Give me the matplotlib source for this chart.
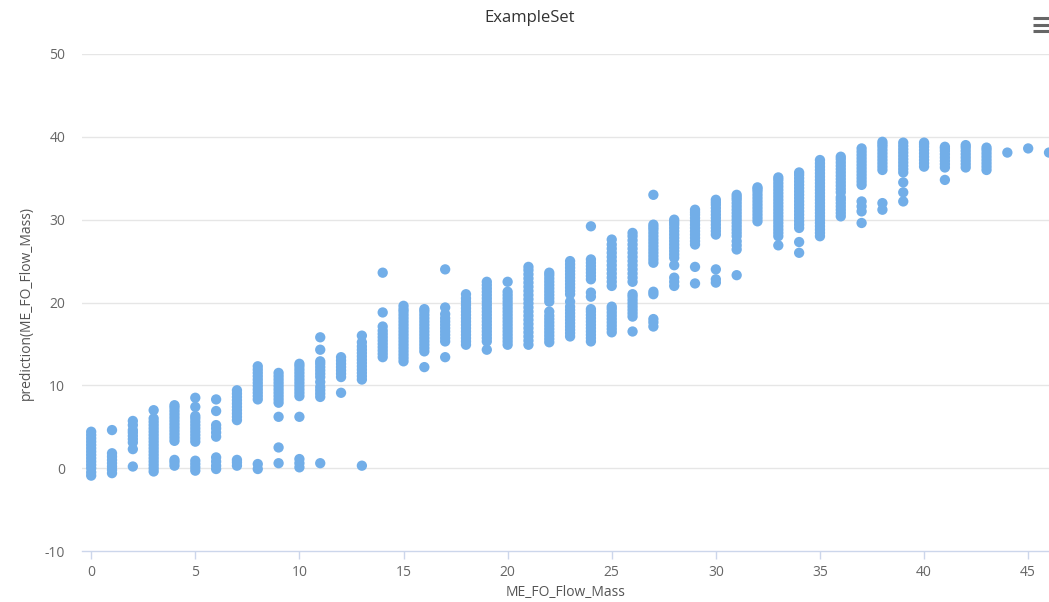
import matplotlib
matplotlib.use("Agg")
import matplotlib.pyplot as plt
from matplotlib.lines import Line2D

plt.rcParams['font.family'] = ['Open Sans', 'DejaVu Sans']
plt.rcParams['axes.unicode_minus'] = False

# Predicted flow mass for each observed ME_FO_Flow_Mass value
pred_00 = [-0.9, -0.5, 0.0, 0.4, 0.8, 1.2, 1.6, 2.0, 2.4, 2.8, 3.2, 3.6, 4.0, 4.4]
pred_01 = [-0.6, -0.2, 0.2, 0.6, 1.0, 1.4, 1.8, 4.6]
pred_02 = [0.2, 2.3, 3.1, 3.5, 3.9, 4.3, 4.6, 5.2, 5.7]
pred_03 = [-0.4, 0.0, 0.4, 0.8, 1.2, 1.6, 2.0, 2.4, 2.8, 3.2, 3.6, 4.0, 4.4, 4.8, 5.2, 5.6, 6.0, 7.0]
pred_04 = [0.3, 0.7, 1.0, 3.3, 3.7, 4.1, 4.5, 4.9, 5.3, 5.7, 6.1, 6.5, 6.9, 7.3, 7.6]
pred_05 = [-0.3, 0.1, 0.5, 0.9, 3.2, 3.6, 4.0, 4.4, 4.8, 5.2, 5.6, 6.0, 6.3, 7.4, 8.5]
pred_06 = [-0.1, 0.3, 0.8, 1.3, 3.8, 4.3, 4.8, 5.2, 6.9, 8.3]
pred_07 = [0.3, 0.7, 1.0, 5.8, 6.2, 6.6, 7.0, 7.4, 7.8, 8.2, 8.6, 9.0, 9.4]
pred_08 = [-0.1, 0.5, 8.3, 8.7, 9.1, 9.5, 9.9, 10.3, 10.7, 11.1, 11.5, 11.9, 12.3]
pred_09 = [0.6, 2.5, 6.2, 7.9, 8.3, 8.7, 9.1, 9.5, 9.9, 10.3, 10.7, 11.1, 11.5]
pred_10 = [0.1, 0.6, 1.1, 6.2, 8.7, 9.1, 9.5, 9.9, 10.3, 10.7, 11.1, 11.5, 11.9, 12.3, 12.6]
pred_11 = [0.6, 8.6, 9.0, 9.4, 9.8, 10.4, 11.0, 11.4, 11.8, 12.2, 12.6, 12.9, 14.3, 15.8]
pred_12 = [9.1, 11.0, 11.4, 11.8, 12.2, 12.6, 13.0, 13.4]
pred_13 = [0.3, 10.7, 11.1, 11.5, 11.9, 12.3, 12.7, 13.1, 13.5, 13.9, 14.3, 14.7, 15.2, 16.0]
pred_14 = [13.4, 13.8, 14.2, 14.6, 15.0, 15.4, 15.8, 16.2, 16.6, 17.1, 18.8, 23.6]
pred_15 = [12.9, 13.3, 13.7, 14.1, 14.5, 14.9, 15.3, 15.7, 16.1, 16.5, 16.9, 17.3, 17.7, 18.1,
           18.5, 18.9, 19.2, 19.6]
pred_16 = [12.2, 14.1, 14.5, 14.9, 15.3, 15.7, 16.1, 16.5, 16.9, 17.3, 17.7, 18.1, 18.5, 18.9, 19.2]
pred_17 = [13.4, 15.3, 15.7, 16.1, 16.5, 16.9, 17.3, 17.7, 18.1, 18.6, 19.4, 24.0]
pred_18 = [14.9, 15.3, 15.7, 16.1, 16.5, 16.9, 17.3, 17.7, 18.1, 18.5, 18.9, 19.3, 19.7, 20.1,
           20.5, 21.0]
pred_19 = [14.3, 15.3, 15.7, 16.1, 16.5, 16.9, 17.3, 17.7, 18.1, 18.5, 18.9, 19.3, 19.7, 20.1,
           20.5, 20.9, 21.3, 21.7, 22.1, 22.5]
pred_20 = [14.9, 15.3, 15.7, 16.1, 16.5, 16.9, 17.3, 17.7, 18.1, 18.5, 18.9, 19.3, 19.7, 20.1,
           20.5, 20.9, 21.3, 22.5]
pred_21 = [14.9, 15.4, 15.9, 16.4, 16.9, 17.4, 17.9, 18.4, 18.9, 19.4, 19.9, 20.4, 20.9, 21.4,
           21.9, 22.4, 22.9, 23.4, 23.9, 24.3]
pred_22 = [15.2, 15.6, 16.0, 16.4, 16.8, 17.2, 17.6, 18.0, 18.4, 18.9, 20.1, 20.5, 20.9, 21.3,
           21.7, 22.1, 22.5, 22.9, 23.3, 23.6]
pred_23 = [15.9, 16.3, 16.7, 17.1, 17.5, 17.9, 18.3, 18.7, 19.1, 19.5, 20.1, 21.0, 21.4, 21.8,
           22.2, 22.6, 23.0, 23.4, 23.8, 24.2, 24.6, 25.0]
pred_24 = [15.3, 15.7, 16.1, 16.5, 16.9, 17.3, 17.7, 18.1, 18.5, 18.9, 19.2, 20.7, 21.2, 22.8,
           23.2, 23.6, 24.0, 24.4, 24.8, 25.2, 29.2]
pred_25 = [16.4, 16.8, 17.2, 17.6, 18.0, 18.4, 18.8, 19.2, 19.5, 22.0, 22.5, 23.0, 23.5, 24.0,
           24.5, 25.0, 25.5, 26.0, 26.5, 27.0, 27.6]
pred_26 = [16.5, 18.3, 18.7, 19.1, 19.5, 19.9, 20.3, 20.7, 21.0, 22.5, 23.0, 23.5, 24.0, 24.5,
           25.0, 25.5, 26.0, 26.5, 27.0, 27.5, 28.0, 28.4]
pred_27 = [17.1, 17.6, 18.0, 21.0, 21.3, 24.8, 25.2, 25.6, 26.0, 26.4, 26.8, 27.2, 27.6, 28.0,
           28.4, 28.8, 29.1, 29.4, 33.0]
pred_28 = [22.0, 22.5, 23.0, 24.5, 25.4, 25.8, 26.2, 26.6, 27.0, 27.4, 27.8, 28.2, 28.6, 29.0,
           29.4, 29.7, 30.0]
pred_29 = [22.3, 24.3, 27.0, 27.4, 27.8, 28.2, 28.6, 29.0, 29.4, 29.8, 30.2, 30.6, 30.9, 31.2]
pred_30 = [22.4, 22.8, 24.0, 28.2, 28.6, 29.0, 29.4, 29.8, 30.2, 30.6, 31.0, 31.4, 31.8, 32.1, 32.4]
pred_31 = [23.3, 26.4, 26.9, 27.4, 28.0, 28.4, 28.8, 29.2, 29.6, 30.0, 30.4, 30.8, 31.2, 31.6,
           32.0, 32.4, 32.7, 33.0]
pred_32 = [29.8, 30.2, 30.6, 31.0, 31.4, 31.8, 32.2, 32.6, 33.0, 33.4, 33.7, 33.9]
pred_33 = [26.9, 28.0, 28.4, 28.8, 29.2, 29.6, 30.0, 30.4, 30.8, 31.2, 31.6, 32.0, 32.4, 32.8,
           33.2, 33.6, 34.0, 34.4, 34.8, 35.1]
pred_34 = [26.0, 27.3, 29.0, 29.4, 29.8, 30.2, 30.6, 31.0, 31.4, 31.8, 32.2, 32.6, 33.0, 33.4,
           33.8, 34.2, 34.6, 35.0, 35.4, 35.7]
pred_35 = [28.0, 28.4, 28.8, 29.2, 29.6, 30.0, 30.4, 30.8, 31.2, 31.6, 32.0, 32.4, 32.8, 33.2,
           33.6, 34.0, 34.4, 34.8, 35.2, 35.6, 36.0, 36.4, 36.8, 37.2]
pred_36 = [30.4, 30.8, 31.2, 31.6, 32.0, 32.4, 32.7, 33.3, 33.7, 34.1, 34.5, 34.9, 35.3, 35.7,
           36.1, 36.5, 36.9, 37.3, 37.6]
pred_37 = [29.6, 31.0, 31.6, 32.2, 34.2, 34.6, 35.0, 35.4, 35.8, 36.2, 36.6, 37.0, 37.4, 37.8,
           38.2, 38.6]
pred_38 = [31.2, 32.0, 36.0, 36.4, 36.8, 37.2, 37.6, 38.0, 38.4, 38.8, 39.1, 39.4]
pred_39 = [32.2, 33.3, 34.5, 35.7, 36.1, 36.5, 36.9, 37.3, 37.7, 38.1, 38.5, 38.9, 39.3]
pred_40 = [36.4, 36.8, 37.2, 37.6, 38.0, 38.4, 38.8, 39.1, 39.3]
pred_41 = [34.8, 36.3, 36.7, 37.1, 37.5, 37.9, 38.3, 38.6, 38.8]
pred_42 = [36.3, 36.7, 37.1, 37.5, 37.9, 38.3, 38.7, 39.0]
pred_43 = [36.0, 36.4, 36.8, 37.2, 37.6, 38.0, 38.4, 38.7]
pred_44 = [38.1]
pred_45 = [38.6]
pred_46 = [38.1]

flow_mass = list(range(47))
predictions = [
    pred_00, pred_01, pred_02, pred_03, pred_04, pred_05, pred_06, pred_07, pred_08, pred_09,
    pred_10, pred_11, pred_12, pred_13, pred_14, pred_15, pred_16, pred_17, pred_18, pred_19,
    pred_20, pred_21, pred_22, pred_23, pred_24, pred_25, pred_26, pred_27, pred_28, pred_29,
    pred_30, pred_31, pred_32, pred_33, pred_34, pred_35, pred_36, pred_37, pred_38, pred_39,
    pred_40, pred_41, pred_42, pred_43, pred_44, pred_45, pred_46,
]

x_ticks = [0, 5, 10, 15, 20, 25, 30, 35, 40, 45]
y_ticks = [-10, 0, 10, 20, 30, 40, 50]

xs, ys = [], []
for fm, preds in zip(flow_mass, predictions):
    for p in preds:
        xs.append(fm)
        ys.append(p)

fig = plt.figure(figsize=(10.49, 6.02), dpi=100)
ax = fig.add_axes([0.078, 0.0847, 0.922, 0.8256])

ax.scatter(xs, ys, s=55, color='#72aee8', edgecolors='none', zorder=3, clip_on=False)

ax.set_xlim(-0.45, 46)
ax.set_ylim(-10, 50)
ax.set_xticks(x_ticks)
ax.set_yticks(y_ticks)

grid_color = '#e6e6e6'
for yv in y_ticks[1:]:
    ax.axhline(yv, color=grid_color, lw=1.0, zorder=1)

for side in ('top', 'right', 'left'):
    ax.spines[side].set_visible(False)
ax.spines['bottom'].set_color('#ccd6eb')
ax.spines['bottom'].set_linewidth(1.0)

ax.tick_params(axis='x', colors='#ccd6eb', length=6, width=1, labelcolor='#666666',
               labelsize=10, pad=4)
ax.tick_params(axis='y', length=0, labelcolor='#666666', labelsize=10, pad=12)

ax.set_xlabel('ME_FO_Flow_Mass', color='#555555', fontsize=10, labelpad=4)
ax.set_ylabel('prediction(ME_FO_Flow_Mass)', color='#555555', fontsize=10, labelpad=8)

fig.text(0.505, 0.97, 'ExampleSet', ha='center', va='center', fontsize=12, color='#333333')

# Menu icon in the top-right corner
for py in (18, 25, 31):
    yf = 1 - py / 602
    fig.add_artist(Line2D([1033 / 1049, 1.0], [yf, yf], color='#666666', lw=2.2,
                          solid_capstyle='butt'))

fig.savefig('out.png', dpi=100, facecolor='white')
